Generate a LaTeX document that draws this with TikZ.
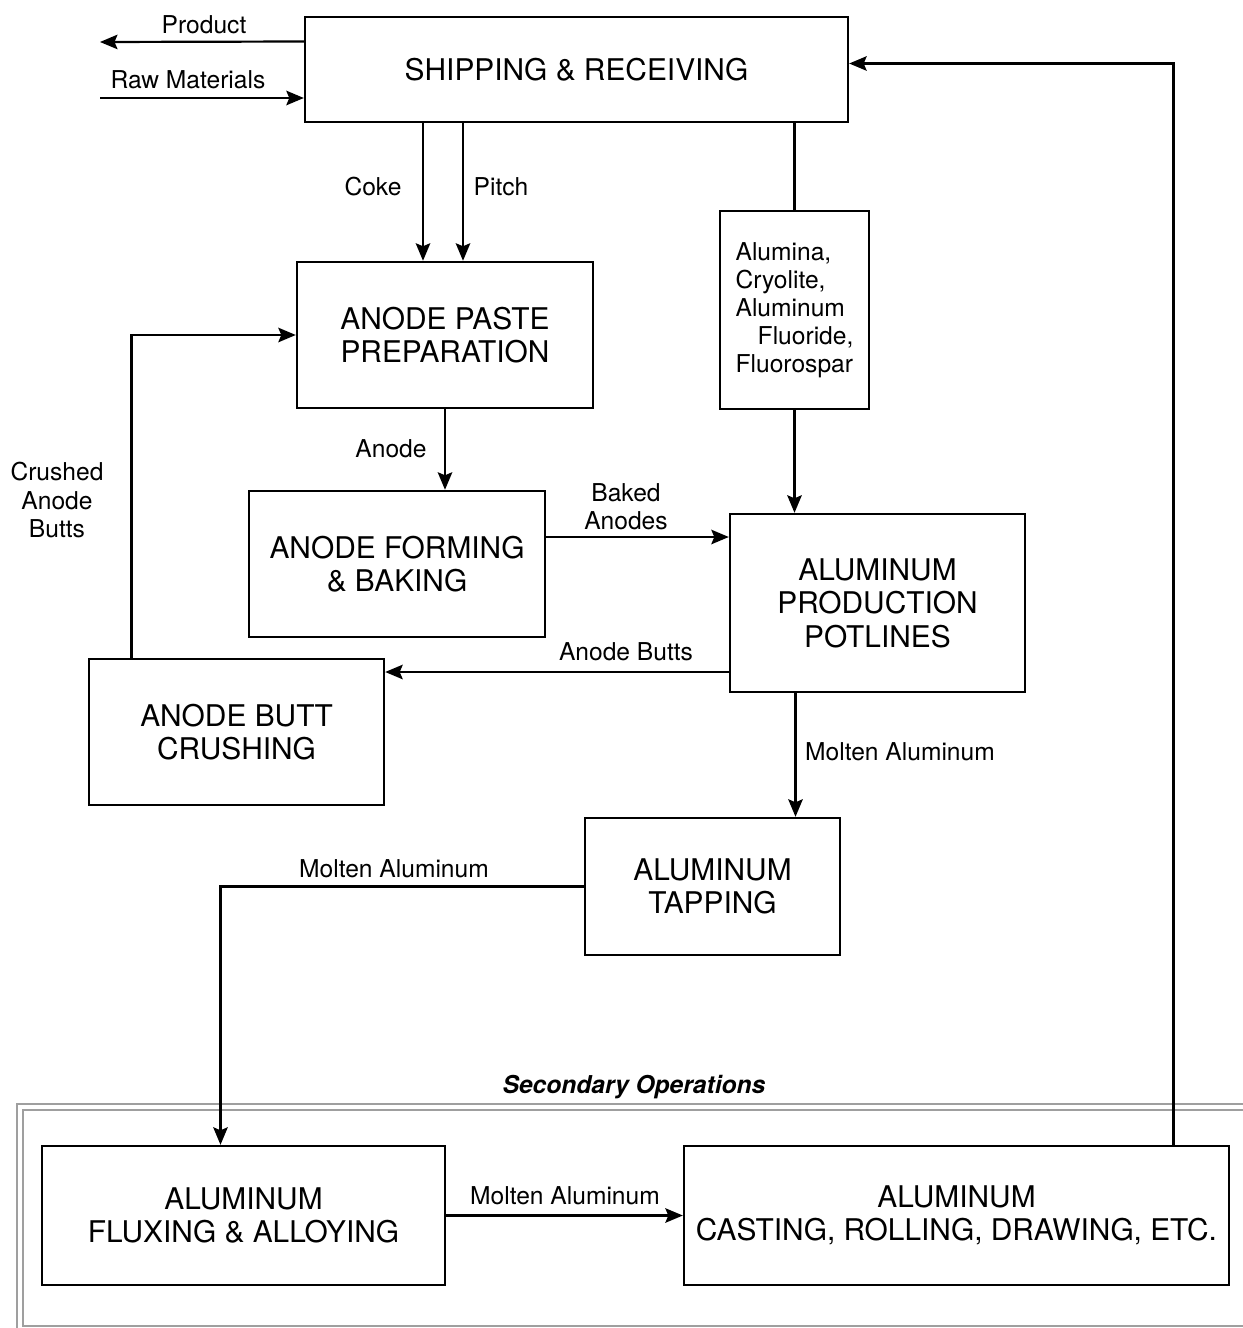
\documentclass[tikz,border=0pt]{standalone}
\usepackage{fontspec}
\setmainfont{TeX Gyre Heros}
\usetikzlibrary{positioning, arrows.meta}

\begin{document}
\begin{tikzpicture}[
  x=0.02cm, y=-0.02cm,
  font=\fontsize{14}{16}\selectfont,
  block/.style={draw, line width=1.4pt, align=center, inner sep=2pt, font=\fontsize{17}{19}\selectfont},
  lbl/.style={inner sep=0pt, align=center},
  frameline/.style={draw, gray!75, line width=0.7pt},
  arr/.style={-{Stealth[length=3.5mm, width=2.9mm, inset=0.6mm]}, line width=1.25pt}
]
\useasboundingbox (0,0) rectangle (1243,1328);

% --- secondary operations frame ---
\begin{scope}
  \clip (0,0) rectangle (1243,1328);
  \draw[frameline] (17,1104) rectangle (1280,1350);
  \draw[frameline] (23,1110) rectangle (1270,1326);
\end{scope}
\node[lbl, font=\fontsize{14}{16}\selectfont\bfseries\itshape] (secops) at (634,1087) {Secondary Operations};

% --- process blocks ---
\node[block, minimum width=10.86cm, minimum height=2.1cm]  (sr)   at (576.5,69.5)  {SHIPPING \& RECEIVING};
\node[block, minimum width=5.92cm, minimum height=2.92cm]  (app)  at (445,335)     {ANODE PASTE\\PREPARATION};
\node[draw, line width=1.4pt, align=left, minimum width=2.98cm, minimum height=3.96cm] (alu) at (794.5,310)
  {Alumina,\\Cryolite,\\Aluminum\\\hspace*{0.9em}Fluoride,\\Fluorospar};
\node[block, minimum width=5.92cm, minimum height=2.92cm]  (afb)  at (397,564)     {ANODE FORMING\\\& BAKING};
\node[block, minimum width=5.9cm, minimum height=3.56cm]   (pot)  at (877.5,603)   {ALUMINUM\\PRODUCTION\\POTLINES};
\node[block, minimum width=5.9cm, minimum height=2.92cm]   (abc)  at (236.5,732)   {ANODE BUTT\\CRUSHING};
\node[block, minimum width=5.1cm, minimum height=2.74cm]   (tap)  at (712.5,886.5) {ALUMINUM\\TAPPING};
\node[block, minimum width=8.06cm, minimum height=2.78cm]  (flux) at (243.5,1215.5){ALUMINUM\\FLUXING \& ALLOYING};
\node[block, minimum width=10.9cm, minimum height=2.78cm]  (cast) at (956.5,1215.5){ALUMINUM\\CASTING, ROLLING, DRAWING, ETC.};

% --- helper points ---
\path (sr.west) ++(0,-28) coordinate (prodOut);
\coordinate (prodEnd) at (100,42);
\coordinate (rawIn) at (100,98);
\path (app.north) ++(-22,0) coordinate (cokeIn);
\path (app.north) ++(18,0) coordinate (pitchIn);
\path (afb.east) ++(0,-27) coordinate (bakedOut);
\path (pot.west) ++(0,69) coordinate (buttsOut);
\path (abc.north) ++(-105,0) coordinate (crushOut);
\path (pot.south) ++(-82,0) coordinate (moltenOut);
\path (flux.north) ++(-23,0) coordinate (fluxIn);
\path (cast.north) ++(217,0) coordinate (castOut);
\path (sr.east) ++(0,-6) coordinate (srIn);

% --- flows ---
\draw[arr] (prodOut) -- (prodEnd);
\draw[arr] (rawIn) -- (rawIn -| sr.west);
\draw[arr] (cokeIn |- sr.south) -- (cokeIn);
\draw[arr] (pitchIn |- sr.south) -- (pitchIn);
\draw[line width=1.25pt] (alu.north |- sr.south) -- (alu.north);
\draw[arr] (alu.south) -- (alu.south |- pot.north);
\draw[arr] (app.south) -- (app.south |- afb.north);
\draw[arr] (bakedOut) -- (bakedOut -| pot.west);
\draw[arr] (buttsOut) -- (buttsOut -| abc.east);
\draw[arr] (crushOut) |- (app.west);
\draw[arr] (moltenOut) -- (moltenOut |- tap.north);
\draw[arr] (tap.west) -| (fluxIn);
\draw[arr] (flux.east) -- (cast.west);
\draw[arr] (castOut) |- (srIn);

% --- flow labels ---
\node[lbl] (lprod)   at (204,25)   {Product};
\node[lbl] (lraw)    at (188,80)   {Raw Materials};
\node[lbl] (lcoke)   at (373,187)  {Coke};
\node[lbl] (lpitch)  at (501,187)  {Pitch};
\node[lbl] (lanode)  at (391,449)  {Anode};
\node[lbl] (lbaked)  at (626,507)  {Baked\\Anodes};
\node[lbl] (lbutts)  at (626,652)  {Anode Butts};
\node[lbl] (lcrush)  at (57,500)   {Crushed\\Anode\\Butts};
\node[lbl] (lmoltA)  at (900,752)  {Molten Aluminum};
\node[lbl] (lmoltB)  at (394,869)  {Molten Aluminum};
\node[lbl] (lmoltC)  at (565,1196) {Molten Aluminum};
\end{tikzpicture}
\end{document}
